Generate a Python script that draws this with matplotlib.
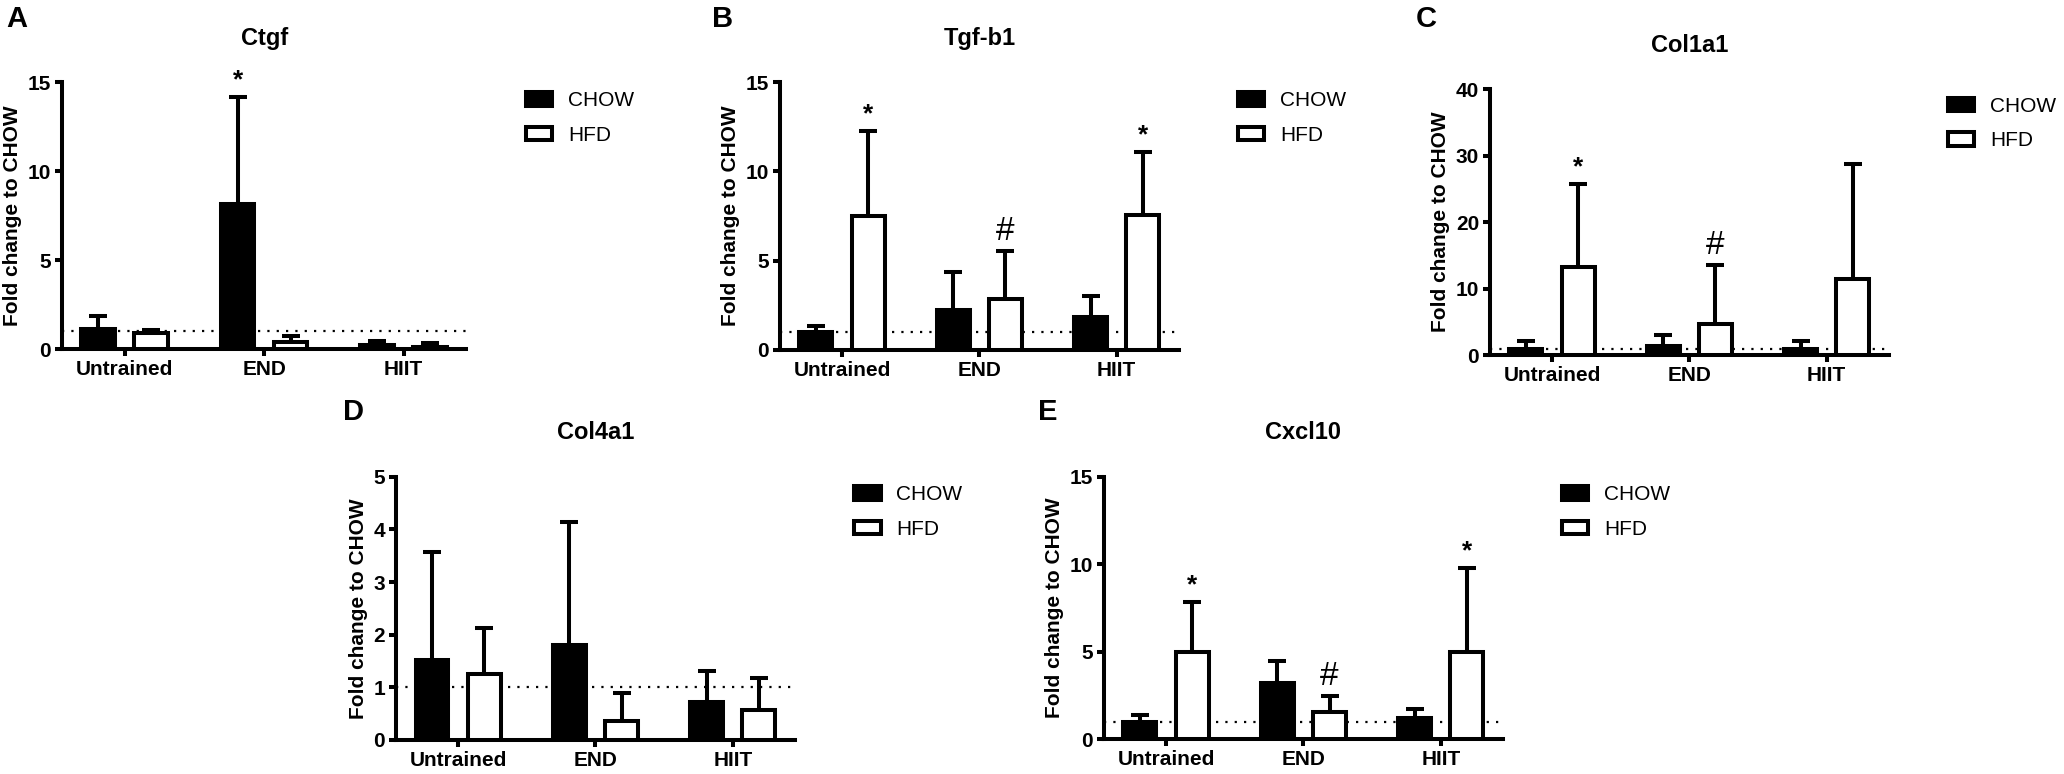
import matplotlib
matplotlib.use("Agg")
import matplotlib.pyplot as plt
import numpy as np
from matplotlib.patches import Patch

# groups and series shared by every panel
groups = ["Untrained", "END", "HIIT"]
series = ["CHOW", "HFD"]

# Ctgf (panel A): bar heights and top of error bars
ctgf_chow = [1.10, 8.13, 0.25]
ctgf_chow_upper = [1.85, 14.14, 0.43]
ctgf_hfd = [0.89, 0.38, 0.10]
ctgf_hfd_upper = [1.08, 0.72, 0.34]

# Tgf-b1 (panel B)
tgf_chow = [0.98, 2.23, 1.85]
tgf_chow_upper = [1.32, 4.38, 3.02]
tgf_hfd = [7.51, 2.83, 7.58]
tgf_hfd_upper = [12.23, 5.51, 11.08]

# Col1a1 (panel C)
col1_chow = [1.00, 1.36, 1.00]
col1_chow_upper = [2.20, 2.98, 2.10]
col1_hfd = [13.2, 4.65, 11.46]
col1_hfd_upper = [25.7, 13.5, 28.7]

# Col4a1 (panel D)
col4_chow = [1.51, 1.80, 0.72]
col4_chow_upper = [3.58, 4.15, 1.31]
col4_hfd = [1.26, 0.36, 0.57]
col4_hfd_upper = [2.12, 0.89, 1.18]

# Cxcl10 (panel E)
cxcl_chow = [1.00, 3.19, 1.19]
cxcl_chow_upper = [1.38, 4.48, 1.70]
cxcl_hfd = [4.97, 1.57, 4.97]
cxcl_hfd_upper = [7.84, 2.46, 9.77]

# significance marks: (group index, series index, symbol)
ctgf_marks = [(1, 0, "*")]
tgf_marks = [(0, 1, "*"), (1, 1, "#"), (2, 1, "*")]
col1_marks = [(0, 1, "*"), (1, 1, "#")]
col4_marks = []
cxcl_marks = [(0, 1, "*"), (1, 1, "#"), (2, 1, "*")]

FONT = ["Liberation Sans", "DejaVu Sans"]
LW = 2.9

panels = [
    dict(letter="A", title="Ctgf", ymax=15, ystep=5,
         chow=(ctgf_chow, ctgf_chow_upper), hfd=(ctgf_hfd, ctgf_hfd_upper), marks=ctgf_marks,
         box=(0.030, 0.549, 0.196, 0.345), letter_xy=(0.003, 0.975), legend_xy=(0.255, 0.882)),
    dict(letter="B", title="Tgf-b1", ymax=15, ystep=5,
         chow=(tgf_chow, tgf_chow_upper), hfd=(tgf_hfd, tgf_hfd_upper), marks=tgf_marks,
         box=(0.378, 0.548, 0.193, 0.346), letter_xy=(0.345, 0.975), legend_xy=(0.600, 0.882)),
    dict(letter="C", title="Col1a1", ymax=40, ystep=10,
         chow=(col1_chow, col1_chow_upper), hfd=(col1_hfd, col1_hfd_upper), marks=col1_marks,
         box=(0.722, 0.541, 0.193, 0.344), letter_xy=(0.686, 0.975), legend_xy=(0.944, 0.875)),
    dict(letter="D", title="Col4a1", ymax=5, ystep=1,
         chow=(col4_chow, col4_chow_upper), hfd=(col4_hfd, col4_hfd_upper), marks=col4_marks,
         box=(0.192, 0.044, 0.193, 0.340), letter_xy=(0.166, 0.468), legend_xy=(0.414, 0.373)),
    dict(letter="E", title="Cxcl10", ymax=15, ystep=5,
         chow=(cxcl_chow, cxcl_chow_upper), hfd=(cxcl_hfd, cxcl_hfd_upper), marks=cxcl_marks,
         box=(0.535, 0.045, 0.193, 0.339), letter_xy=(0.503, 0.468), legend_xy=(0.757, 0.373)),
]

fig = plt.figure(figsize=(20.64, 7.74), dpi=100)

x = np.arange(len(groups))
offsets = [-0.19, 0.19]
width = 0.24

for p in panels:
    ax = fig.add_axes(p["box"])
    ax.axhline(1, color="black", lw=1.6, linestyle=(0, (1, 3.2)), zorder=1)

    for k, (vals, upper) in enumerate([p["chow"], p["hfd"]]):
        vals = np.asarray(vals)
        upper = np.asarray(upper)
        xs = x + offsets[k]
        face = "black" if k == 0 else "white"
        ax.bar(xs, vals, width=width, color=face, edgecolor="black", linewidth=LW, zorder=3)
        _, caps, _ = ax.errorbar(xs, vals, yerr=[np.zeros_like(vals), upper - vals], fmt="none",
                                 ecolor="black", elinewidth=LW, capsize=6.5, capthick=LW, zorder=2)
        caps[0].set_visible(False)

    for gi, si, sym in p["marks"]:
        top = p["chow"][1][gi] if si == 0 else p["hfd"][1][gi]
        if sym == "*":
            ax.annotate(sym, (x[gi] + offsets[si], top), xytext=(0, 7), textcoords="offset points",
                        ha="center", va="baseline", fontsize=19, fontweight="bold",
                        family=FONT, annotation_clip=False)
        else:
            ax.annotate(sym, (x[gi] + offsets[si], top), xytext=(0, 8), textcoords="offset points",
                        ha="center", va="baseline", fontsize=24, family=FONT,
                        annotation_clip=False)

    ax.set_xlim(-0.45, 2.45)
    ax.set_ylim(0, p["ymax"])
    ax.set_yticks(np.arange(0, p["ymax"] + 0.01, p["ystep"]))
    ax.set_xticks(x)
    ax.set_xticklabels(groups)
    for s in ("top", "right"):
        ax.spines[s].set_visible(False)
    for s in ("left", "bottom"):
        ax.spines[s].set_linewidth(LW)
    ax.tick_params(axis="both", direction="out", length=5, width=LW, pad=3)
    for lab in ax.get_xticklabels() + ax.get_yticklabels():
        lab.set_fontfamily(FONT)
        lab.set_fontweight("bold")
        lab.set_fontsize(15)

    ax.set_ylabel("Fold change to CHOW", fontsize=15, fontweight="bold", family=FONT)
    ax.set_title(p["title"], fontsize=17, fontweight="bold", family=FONT, pad=27)

    fig.text(p["letter_xy"][0], p["letter_xy"][1], p["letter"], fontsize=21, fontweight="bold",
             family=FONT, ha="left", va="center")

    handles = [Patch(facecolor="black", edgecolor="black", linewidth=LW),
               Patch(facecolor="white", edgecolor="black", linewidth=LW)]
    ax.legend(handles, series, loc="upper left", bbox_to_anchor=p["legend_xy"],
              bbox_transform=fig.transFigure, frameon=False, borderpad=0, borderaxespad=0,
              handlelength=1.25, handleheight=0.6, handletextpad=0.75, labelspacing=0.75,
              prop=dict(family=FONT, size=15))

fig.savefig("out.png", dpi=100)
